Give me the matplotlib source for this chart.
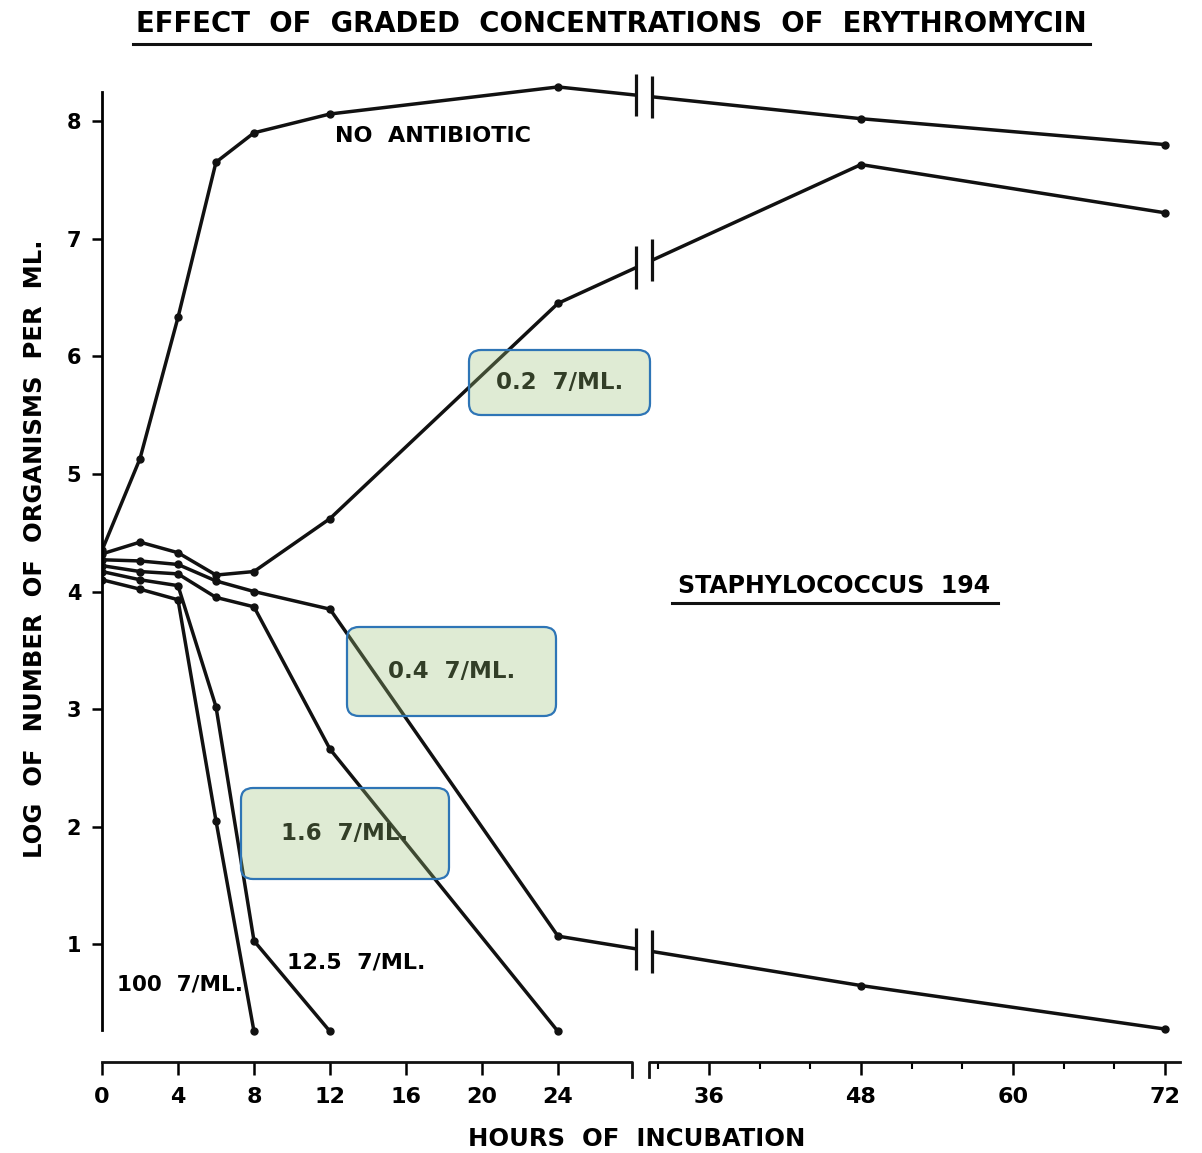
#!/usr/bin/env python3
"""
Growth curves of Staphylococcus 194 under graded erythromycin concentrations,
redrawn with a broken hours axis (0-28 h stretched, 30-72 h compressed).
"""

import numpy as np
import matplotlib
matplotlib.use("Agg")
import matplotlib.pyplot as plt
from matplotlib.lines import Line2D
from matplotlib.patches import FancyBboxPatch

# sampling times (hours of incubation)
HOURS = [0, 2, 4, 6, 8, 12, 24, 48, 72]

# log of number of organisms per ml
NO_ANTIBIOTIC = [4.35, 5.13, 6.33, 7.65, 7.90, 8.06, 8.29, 8.02, 7.80]
ERY_0_2 = [4.32, 4.42, 4.33, 4.14, 4.17, 4.62, 6.45, 7.63, 7.22]
ERY_0_4 = [4.27, 4.26, 4.23, 4.09, 4.00, 3.85, 1.07, 0.65, 0.28]
ERY_1_6 = [4.22, 4.17, 4.15, 3.95, 3.87, 2.66, 0.26]
ERY_12_5 = [4.17, 4.10, 4.05, 3.02, 1.03, 0.26]
ERY_100 = [4.10, 4.02, 3.93, 2.05, 0.26]

X_MAJOR = [0, 4, 8, 12, 16, 20, 24, 36, 48, 60, 72]
X_MINOR = [32, 40, 44, 52, 56, 64, 68]
Y_TICKS = [1, 2, 3, 4, 5, 6, 7, 8]

# piecewise hour -> pixel scale: 19 px/h up to the break, 12.67 px/h after it
HOUR_KNOTS = [-20.0, 0.0, 28.0, 31.0, 100.0]
PX_KNOTS = [-380.0, 0.0, 532.0, 543.6, 543.6 + 12.67 * 69]

W, H = 1202, 1153
FONT = "DejaVu Sans"


def fwd(h):
    return np.interp(h, HOUR_KNOTS, PX_KNOTS)


def inv(u):
    return np.interp(u, PX_KNOTS, HOUR_KNOTS)


def fx(px):
    return px / W


def fy(py):
    return 1 - py / H


def main():
    plt.rcParams["font.family"] = FONT
    plt.rcParams["font.weight"] = "bold"

    fig = plt.figure(figsize=(W / 100, H / 100), dpi=100)
    ax = fig.add_axes([fx(102), fy(1062), 1082 / W, 988 / H])
    ax.set_xscale("function", functions=(fwd, inv))
    ax.set_xlim(0, 73.5)
    ax.set_ylim(0, 8.4)

    lw = 2.5
    series = [NO_ANTIBIOTIC, ERY_0_2, ERY_0_4, ERY_1_6, ERY_12_5, ERY_100]
    for vals in series:
        ax.plot(HOURS[:len(vals)], vals, color="#111111", lw=lw,
                marker="o", ms=5, solid_joinstyle="round", zorder=2)

    # axis break on the lines that run past 24 h
    b0, b1 = 28.6, 31.5
    ax.axvspan(b0, b1, color="white", lw=0, zorder=2.5)
    fig.canvas.draw()
    for vals in series[:3]:
        p1 = ax.transData.transform((24, vals[6]))
        p2 = ax.transData.transform((48, vals[7]))
        for hb in (b0, b1):
            xd = ax.transData.transform((hb, 0))[0]
            yd = p1[1] + (p2[1] - p1[1]) * (xd - p1[0]) / (p2[0] - p1[0])
            yb = ax.transData.inverted().transform((xd, yd))[1]
            ax.plot([hb, hb], [yb - 0.18, yb + 0.18], color="#111111",
                    lw=2.3, zorder=3, solid_capstyle="butt")

    # spines
    for side in ("top", "right", "bottom"):
        ax.spines[side].set_visible(False)
    ax.spines["left"].set_bounds(0.27, 8.25)
    ax.spines["left"].set_linewidth(2)

    # broken x axis drawn as two segments with hooks
    hook = 0.13
    ax.plot([0, 27.9, 27.9], [0, 0, -hook], color="#111111", lw=2,
            clip_on=False, zorder=3)
    ax.plot([31.3, 31.3, 73.2], [-hook, 0, 0], color="#111111", lw=2,
            clip_on=False, zorder=3)

    ax.set_xticks(X_MAJOR)
    ax.set_xticklabels([str(v) for v in X_MAJOR])
    ax.set_xticks(X_MINOR, minor=True)
    ax.tick_params(axis="x", which="major", direction="out", length=9,
                   width=1.8, pad=9, labelsize=16)
    ax.tick_params(axis="x", which="minor", direction="out", length=5,
                   width=1.5)
    ax.set_yticks(Y_TICKS)
    ax.tick_params(axis="y", direction="out", length=7, width=1.8, pad=8,
                   labelsize=15)

    ax.set_xlabel("HOURS  OF  INCUBATION", fontsize=17.5, fontweight="bold")
    ax.xaxis.set_label_coords((637 - 102) / 1082, -(1139 - 1062) / 988)
    ax.xaxis.label.set_va("center")
    ax.set_ylabel("LOG  OF  NUMBER  OF  ORGANISMS  PER  ML.", fontsize=17.5,
                  fontweight="bold")
    ax.yaxis.set_label_coords((35 - 102) / 1082, (1062 - 549) / 988)
    ax.yaxis.label.set_va("center")

    # title with underline
    fig.text(fx(611), fy(24), "EFFECT  OF  GRADED  CONCENTRATIONS  OF  ERYTHROMYCIN",
             ha="center", va="center", fontsize=19.8, fontweight="bold")
    fig.add_artist(Line2D([fx(133), fx(1090)], [fy(44), fy(44)],
                          color="#111111", lw=2.2))

    # curve labels
    ax.text(17.4, 7.87, "NO  ANTIBIOTIC", ha="center", va="center",
            fontsize=16, fontweight="bold")
    ax.text(13.4, 0.85, "12.5  7/ML.", ha="center", va="center",
            fontsize=16, fontweight="bold")
    ax.text(4.1, 0.66, "100  7/ML.", ha="center", va="center",
            fontsize=15.5, fontweight="bold")
    ax.text(45.9, 4.05, "STAPHYLOCOCCUS  194", ha="center", va="center",
            fontsize=17, fontweight="bold")
    fig.add_artist(Line2D([fx(672), fx(998)], [fy(603), fy(603)],
                          color="#111111", lw=2.2))

    # highlighted labels: text below a translucent green callout box
    boxes = [("0.2  7/ML.", 469, 350, 650, 415),
             ("0.4  7/ML.", 347, 627, 556, 716),
             ("1.6  7/ML.", 241, 788, 449, 879)]
    for label, x0, y0, x1, y1 in boxes:
        fig.text(fx((x0 + x1) / 2), fy((y0 + y1) / 2), label, ha="center",
                 va="center", fontsize=16.5, fontweight="bold", zorder=4)
        box = FancyBboxPatch((fx(x0), fy(y1)), (x1 - x0) / W, (y1 - y0) / H,
                             boxstyle="round,pad=0,rounding_size=0.01",
                             transform=fig.transFigure, facecolor="#9ec27a",
                             alpha=0.32, edgecolor="none", zorder=5)
        fig.add_artist(box)
        edge = FancyBboxPatch((fx(x0), fy(y1)), (x1 - x0) / W, (y1 - y0) / H,
                              boxstyle="round,pad=0,rounding_size=0.01",
                              transform=fig.transFigure, facecolor="none",
                              edgecolor="#2e75b6", lw=1.6, zorder=6)
        fig.add_artist(edge)

    fig.savefig("out.png", dpi=100)
    plt.close(fig)


if __name__ == "__main__":
    main()
